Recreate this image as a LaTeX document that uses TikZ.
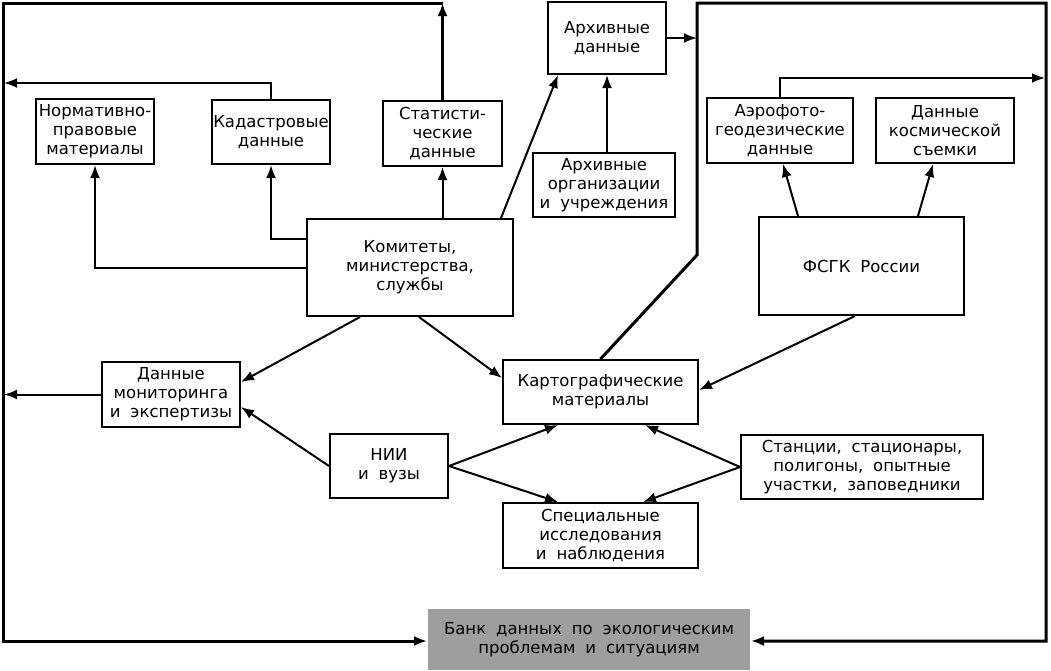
\documentclass[tikz,border=0pt]{standalone}
\usepackage{fontspec}
\setmainfont{DejaVu Sans}
\usetikzlibrary{calc,arrows.meta}
\definecolor{bancogris}{RGB}{158,158,158}
\newcommand\letracaja{\fontsize{16.5}{19}\selectfont\spaceskip=0.6em\relax}

\begin{document}
\begin{tikzpicture}[x=1pt, y=-1pt, >={Latex[length=13pt,width=10pt]}, line width=2pt,
    caja/.style={draw, line width=2pt, align=center, inner sep=1pt, font=\letracaja},
    marco/.style={line width=3pt}]
    \useasboundingbox (0,0) rectangle (1051,670);
    % cajas
    \node[caja, minimum width=118, minimum height=65] (norm) at (95,131.5) {Нормативно-\\правовые\\материалы};
    \node[caja, minimum width=118, minimum height=64] (kad) at (271,132) {Кадастровые\\данные};
    \node[caja, minimum width=119, minimum height=65] (stat) at (442.5,133.5) {Статисти-\\ческие\\данные};
    \node[caja, minimum width=118, minimum height=72] (arhd) at (607,38) {Архивные\\данные};
    \node[caja, minimum width=142, minimum height=64] (arho) at (604,185) {Архивные\\организации\\и учреждения};
    \node[caja, minimum width=206, minimum height=97] (kom) at (410,267.5) {Комитеты,\\министерства,\\службы};
    \node[caja, minimum width=146, minimum height=65] (aero) at (780,130.5) {Аэрофото-\\геодезические\\данные};
    \node[caja, minimum width=138, minimum height=65] (kosm) at (945,130.5) {Данные\\космической\\съемки};
    \node[caja, minimum width=205, minimum height=98] (fsgk) at (861.5,266) {ФСГК России};
    \node[caja, minimum width=138, minimum height=65] (mon) at (171,394.5) {Данные\\мониторинга\\и экспертизы};
    \node[caja, minimum width=118, minimum height=64] (nii) at (389,466) {НИИ\\и вузы};
    \node[caja, minimum width=195, minimum height=64] (kart) at (600.5,392) {Картографические\\материалы};
    \node[caja, minimum width=195, minimum height=65] (spec) at (600.5,535.5) {Специальные\\исследования\\и наблюдения};
    \node[caja, minimum width=242, minimum height=64] (stan) at (862,467) {Станции, стационары,\\полигоны, опытные\\участки, заповедники};
    \node[caja, draw=none, fill=bancogris, minimum width=322, minimum height=61] (bank) at (589,639.5) {Банк данных по экологическим\\проблемам и ситуациям};
    % marco
    \coordinate (tl) at (3,3); \coordinate (bl) at (3,641);
    \coordinate (rt) at (697,3); \coordinate (rk) at (697,255);
    \coordinate (tr) at (1046,3); \coordinate (br) at (1046,641);
    \coordinate (lk) at (4,83); \coordinate (ra) at (1045,78);
    \draw[marco,->] (stat.north) -- (stat.north |- tl);
    \draw[marco,->] (stat.north |- tl) -- (tl) -- (bl) -- (bank.west |- bl);
    \draw[marco,->] (kart.north) -- (rk) -- (rt) -- (tr) -- (br) -- (bank.east |- br);
    % flechas
    \draw[->] (kad.north) |- (lk);
    \draw[->] (mon.west) -- (mon.west -| lk);
    \draw[->] (arhd.east) -- (arhd.east -| rt);
    \draw[->] (aero.north) |- (ra);
    \draw[->] (kom.west) -| (norm.south);
    \draw[->] ([yshift=28.5]kom.west) -| (kad.south);
    \draw[->] (stat.south |- kom.north) -- (stat.south);
    \draw[->] ([xshift=-13]kom.north east) -- ([xshift=-49]arhd.south);
    \draw[->] (arho.north -| arhd.south) -- (arhd.south);
    \draw[->] ([xshift=-63.5]fsgk.north) -- ([xshift=3]aero.south);
    \draw[->] ([xshift=56.5]fsgk.north) -- ([xshift=-12]kosm.south);
    \draw[->] ([xshift=-6.5]fsgk.south) -- ([yshift=2]kart.east);
    \draw[->] ([xshift=-50]kom.south) -- ([yshift=12.5]mon.east);
    \draw[->] ([xshift=9]kom.south) -- ([yshift=14]kart.west);
    \draw[->] (nii.west) -- ([yshift=-12.5]mon.east);
    \draw[->] (nii.east) -- ([xshift=-42.5]kart.south);
    \draw[->] (nii.east) -- ([xshift=-42.5]spec.north);
    \draw[->] (stan.west) -- ([xshift=44.5]kart.south);
    \draw[->] (stan.west) -- ([xshift=42.5]spec.north);
\end{tikzpicture}
\end{document}
